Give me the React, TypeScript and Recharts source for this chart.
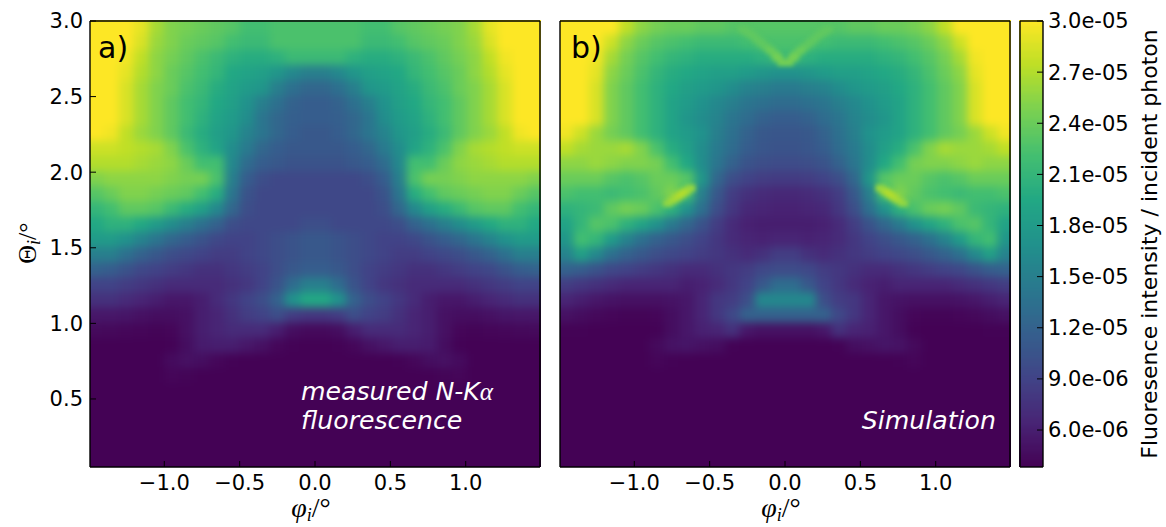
import { ScatterChart, Scatter, XAxis, YAxis } from "recharts"

// half of each panel: columns run from phi = -1.45 to -0.05, the picture is mirror symmetric about phi = 0
const phiValues = [-1.45, -1.35, -1.25, -1.15, -1.05, -0.95, -0.85, -0.75, -0.65, -0.55, -0.45, -0.35, -0.25, -0.15, -0.05]
const thetaValues = [
  2.95, 2.85, 2.75, 2.65, 2.55, 2.45, 2.35, 2.25, 2.15, 2.05, 1.95, 1.85, 1.75, 1.65, 1.55,
  1.45, 1.35, 1.25, 1.15, 1.05, 0.95, 0.85, 0.75, 0.65, 0.55, 0.45, 0.35, 0.25, 0.15, 0.05,
]

// intensity in units of 1e-6
const measuredRows = [
  [30, 30, 30, 29, 26.5, 25, 24.5, 24, 23.5, 23, 22, 22, 22.5, 22.5, 22.5],
  [30, 30, 30, 28.5, 26, 25, 24, 23.5, 23, 22, 21.5, 21.5, 22.5, 22.5, 22.5],
  [30, 30, 29.5, 27.5, 25.5, 24.5, 23.5, 22.5, 21.5, 20.5, 20, 20, 20.5, 21.5, 21.5],
  [30, 30, 29, 27, 25.5, 24, 23, 22, 21, 19.5, 19, 18.5, 17.5, 16, 15],
  [30, 30, 28.5, 26.5, 25, 24, 22.5, 21.5, 20, 19, 18, 17.5, 15, 13.5, 12.5],
  [30, 30, 28.5, 26.5, 25, 23.5, 22, 21, 19.5, 18.5, 17, 15, 13.5, 12, 11.5],
  [30, 30, 28.5, 26.5, 25, 23.5, 22, 20.5, 19, 18, 16.5, 14, 12.5, 11.7, 11.5],
  [30, 29.5, 27.5, 26, 25, 23.5, 21.5, 20, 18.5, 17.5, 15.5, 14, 12.5, 11.5, 11],
  [28, 28, 27.5, 27, 26.5, 25, 22.5, 20.5, 19, 16.5, 14.5, 12.5, 11.5, 11, 11],
  [27, 27, 27, 26.5, 26, 25.5, 24, 22, 22, 16, 13, 11.5, 11, 10.5, 10.5],
  [25, 25.5, 25.5, 25.5, 25.5, 25, 24.5, 24.5, 22.5, 15, 11.5, 10, 9.5, 9.5, 9.5],
  [23, 24, 25, 25, 24.5, 24, 23.5, 22, 20, 14, 10.5, 9.5, 9.5, 9.5, 9.5],
  [21, 22, 23.5, 23.5, 23, 21.5, 20, 18.5, 16, 12.5, 10, 9.5, 9.5, 9.5, 9.5],
  [19.5, 20.5, 20.5, 19.5, 18, 16.5, 15, 13.5, 12, 10, 9.5, 9.5, 9.5, 9.5, 10],
  [18, 18, 17, 15.5, 14, 12.5, 11.5, 10.5, 9.5, 9, 9, 9.5, 10, 10.5, 11],
  [15, 15, 13.5, 12, 11, 10, 9.5, 9, 8.5, 8.5, 9, 9.5, 10, 10.5, 11],
  [12, 11.5, 10.5, 9.5, 9, 8.5, 8, 7.5, 7.5, 8, 8.5, 9, 10, 11, 11.5],
  [9, 9, 8.5, 8, 7.5, 7, 7, 7, 7, 7.5, 8, 9, 10.5, 13, 15],
  [7.5, 7.5, 7, 6.5, 6, 5.5, 5.5, 6, 7, 8, 9, 10, 12, 17, 19.5],
  [5.5, 5.5, 5.3, 5, 4.8, 4.8, 5, 6, 6.5, 7.5, 8.5, 9, 10, 8.5, 8],
  [4.5, 4.4, 4.3, 4.2, 4.1, 4.2, 5, 6, 6.5, 7, 7, 7, 6, 4.8, 4.5],
  [3.9, 3.9, 3.9, 3.9, 3.9, 4, 4.8, 5.8, 6, 6, 5.5, 5, 4.3, 4, 3.9],
  [3.9, 3.9, 3.9, 3.9, 3.9, 4.6, 5, 4.8, 4.3, 4, 3.9, 3.9, 3.9, 3.9, 3.9],
  [3.9, 3.9, 3.9, 3.9, 3.9, 4.2, 4.1, 3.9, 3.9, 3.9, 3.9, 3.9, 3.9, 3.9, 3.9],
  [3.9, 3.9, 3.9, 3.9, 3.9, 3.9, 3.9, 3.9, 3.9, 3.9, 3.9, 3.9, 3.9, 3.9, 3.9],
  [3.9, 3.9, 3.9, 3.9, 3.9, 3.9, 3.9, 3.9, 3.9, 3.9, 3.9, 3.9, 3.9, 3.9, 3.9],
  [3.9, 3.9, 3.9, 3.9, 3.9, 3.9, 3.9, 3.9, 3.9, 3.9, 3.9, 3.9, 3.9, 3.9, 3.9],
  [3.9, 3.9, 3.9, 3.9, 3.9, 3.9, 3.9, 3.9, 3.9, 3.9, 3.9, 3.9, 3.9, 3.9, 3.9],
  [3.9, 3.9, 3.9, 3.9, 3.9, 3.9, 3.9, 3.9, 3.9, 3.9, 3.9, 3.9, 3.9, 3.9, 3.9],
  [3.9, 3.9, 3.9, 3.9, 3.9, 3.9, 3.9, 3.9, 3.9, 3.9, 3.9, 3.9, 3.9, 3.9, 3.9],
]

const simulatedRows = [
  [30, 30, 30, 30, 27.5, 25.5, 24.5, 24, 24, 23.5, 23.5, 23, 23, 23, 23],
  [30, 30, 30, 28, 25.5, 24, 23, 22.5, 22, 21.5, 21.5, 21.5, 22, 22.5, 22.5],
  [30, 30, 29.5, 26.5, 24.5, 23, 22, 21, 20.5, 20, 20, 20, 20, 20.5, 21.5],
  [30, 30, 29, 25.5, 24, 22.5, 21, 20, 19.5, 19, 18.5, 18.5, 18, 17.5, 17],
  [30, 30, 28.5, 25, 23.5, 22, 20.5, 19.5, 18.5, 18, 17.5, 16.5, 15.5, 15, 14.5],
  [30, 30, 28.5, 25, 23.5, 22, 20.5, 19, 18, 17, 16, 15, 14, 13.5, 13],
  [30, 30, 28.5, 25, 23.5, 22, 20.5, 19, 17.5, 16.5, 15.5, 14, 13, 12, 11.5],
  [29.5, 28, 26, 24.5, 23.5, 22, 20.5, 19, 18, 17, 15, 13.5, 12, 11, 10.8],
  [27.5, 26.5, 26, 26, 26.5, 25, 22.5, 20, 18.5, 16.5, 14.5, 13, 11.5, 10.8, 10.5],
  [25.5, 25.5, 26, 25.5, 25, 25, 24.5, 22, 19.5, 16.5, 14, 12, 10.5, 10, 9.8],
  [24, 24, 24, 23, 22.5, 23, 24, 24, 23, 17.5, 12.5, 10, 9, 8.5, 8.3],
  [22.5, 22, 22, 21.5, 22, 22.5, 23.5, 25, 22, 15, 11, 8.5, 7.5, 7, 6.8],
  [20.5, 21, 21.5, 23.5, 24.5, 24, 22.5, 20.5, 17, 13.5, 10, 8, 6.8, 6.5, 6.3],
  [19, 21, 23, 22.5, 20.5, 19, 17, 14.5, 12.5, 10.5, 8.5, 7, 6.2, 6, 6],
  [17.5, 22, 21, 18, 15.5, 13.5, 12, 11, 10, 9, 8, 7, 6.5, 6.3, 6.5],
  [15.5, 18.5, 16, 13.5, 12, 11, 10, 9.5, 9, 8.5, 8, 7.5, 7, 7.5, 8.5],
  [12, 11.5, 10.5, 9.5, 9, 8.5, 8, 7.5, 7, 7, 7.5, 8, 8.5, 9.5, 9.8],
  [8.5, 8, 7.5, 7, 6.5, 6.5, 6.5, 6.5, 6, 6.3, 7, 8, 9, 11, 13],
  [6.5, 6, 5.5, 5.2, 5, 5, 5, 5.2, 5.5, 6.5, 8, 8.5, 10, 16, 16],
  [5, 4.7, 4.4, 4.2, 4.1, 4.1, 4.2, 4.8, 5.5, 6.5, 8, 9.5, 12, 12, 12],
  [4, 4, 3.9, 3.9, 3.9, 3.9, 4, 4.8, 5.5, 6.2, 6.5, 7.5, 5.5, 5, 5],
  [3.9, 3.9, 3.9, 3.9, 3.9, 3.9, 4.5, 5.2, 5.3, 5, 4.8, 4, 3.9, 3.9, 3.9],
  [3.9, 3.9, 3.9, 3.9, 3.9, 3.9, 4.2, 4, 3.9, 3.9, 3.9, 3.9, 3.9, 3.9, 3.9],
  [3.9, 3.9, 3.9, 3.9, 3.9, 3.9, 3.9, 3.9, 3.9, 3.9, 3.9, 3.9, 3.9, 3.9, 3.9],
  [3.9, 3.9, 3.9, 3.9, 3.9, 3.9, 3.9, 3.9, 3.9, 3.9, 3.9, 3.9, 3.9, 3.9, 3.9],
  [3.9, 3.9, 3.9, 3.9, 3.9, 3.9, 3.9, 3.9, 3.9, 3.9, 3.9, 3.9, 3.9, 3.9, 3.9],
  [3.9, 3.9, 3.9, 3.9, 3.9, 3.9, 3.9, 3.9, 3.9, 3.9, 3.9, 3.9, 3.9, 3.9, 3.9],
  [3.9, 3.9, 3.9, 3.9, 3.9, 3.9, 3.9, 3.9, 3.9, 3.9, 3.9, 3.9, 3.9, 3.9, 3.9],
  [3.9, 3.9, 3.9, 3.9, 3.9, 3.9, 3.9, 3.9, 3.9, 3.9, 3.9, 3.9, 3.9, 3.9, 3.9],
  [3.9, 3.9, 3.9, 3.9, 3.9, 3.9, 3.9, 3.9, 3.9, 3.9, 3.9, 3.9, 3.9, 3.9, 3.9],
]

// thin features of the simulation, too narrow for the coarse grid: bright streak and top V
const ridgePhi = [-0.78, -0.75, -0.72, -0.69, -0.66, -0.63, -0.28, -0.25, -0.22, -0.19, -0.16, -0.13, -0.1, -0.07, -0.05, -0.02]
const ridgeTheta = [1.79, 1.81, 1.83, 1.85, 1.87, 1.89, 2.94, 2.92, 2.9, 2.875, 2.85, 2.825, 2.8, 2.775, 2.75, 2.72]
const ridgeValues = [25.5, 26, 26.5, 27, 27, 26, 23.5, 23.5, 23.5, 23.5, 23.5, 23.5, 24, 24, 24.5, 24.5]

const colorbarLevels = [
  3.5, 4, 4.5, 5, 5.5, 6, 6.5, 7, 7.5, 8, 8.5, 9, 9.5, 10, 10.5, 11, 11.5, 12, 12.5, 13, 13.5, 14, 14.5, 15, 15.5, 16, 16.5,
  17, 17.5, 18, 18.5, 19, 19.5, 20, 20.5, 21, 21.5, 22, 22.5, 23, 23.5, 24, 24.5, 25, 25.5, 26, 26.5, 27, 27.5, 28, 28.5,
  29, 29.5, 30, 30.5,
]

const phiTicks = [-1, -0.5, 0, 0.5, 1]
const thetaTicks = [0.5, 1, 1.5, 2, 2.5, 3]
const colorbarTicks = [6, 9, 12, 15, 18, 21, 24, 27, 30]

const viridis = ["#440154", "#482475", "#414487", "#355f8d", "#2a788e", "#21918c", "#22a884", "#44bf70", "#7ad151", "#bddf26", "#fde725"]
const V_MIN = 3.83
const V_MAX = 30
const FONT = "'DejaVu Sans', sans-serif"
const MATH = "'Liberation Serif', serif"

function colorOf(v: number) {
  const t = Math.min(1, Math.max(0, (v - V_MIN) / (V_MAX - V_MIN))) * (viridis.length - 1)
  const i = Math.min(viridis.length - 2, Math.floor(t))
  const f = t - i
  const a = viridis[i]
  const b = viridis[i + 1]
  const mix = (s: number) => {
    const p = parseInt(a.slice(s, s + 2), 16)
    const q = parseInt(b.slice(s, s + 2), 16)
    return Math.round(p + (q - p) * f)
  }
  return `rgb(${mix(1)},${mix(3)},${mix(5)})`
}

// mirror the half rows to get the whole panel
function buildCells(rows: number[][]) {
  const cells: { phi: number; theta: number; value: number }[] = []
  rows.forEach((row, r) => {
    row.forEach((value, c) => {
      cells.push({ phi: phiValues[c], theta: thetaValues[r], value })
      cells.push({ phi: -phiValues[c], theta: thetaValues[r], value })
    })
  })
  return cells
}

function buildRidge() {
  const cells: { phi: number; theta: number; value: number }[] = []
  ridgePhi.forEach((phi, i) => {
    cells.push({ phi, theta: ridgeTheta[i], value: ridgeValues[i] })
    cells.push({ phi: -phi, theta: ridgeTheta[i], value: ridgeValues[i] })
  })
  return cells
}

function HeatCell(props: any) {
  const { cx, cy, payload } = props
  // border cells reach past the plot so the blur does not fade at the frame
  const left = payload.phi === -1.45 ? 24 : 0
  const right = payload.phi === 1.45 ? 24 : 0
  const top = payload.theta === 2.95 ? 24 : 0
  const bottom = payload.theta === 0.05 ? 24 : 0
  return (
    <rect
      x={cx - 8 - left}
      y={cy - 8 - top}
      width={16 + left + right}
      height={16 + top + bottom}
      fill={colorOf(payload.value)}
    />
  )
}

function RidgeCell(props: any) {
  const { cx, cy, payload } = props
  return <rect x={cx - 5} y={cy - 3.5} width={10} height={7} fill={colorOf(payload.value)} />
}

function BarCell(props: any) {
  const { cx, cy, payload } = props
  return <rect x={cx - 24} y={cy - 5} width={48} height={10} fill={colorOf(payload.level)} />
}

const axisStyle = { stroke: "#000", strokeWidth: 1.4 }
const tickStyle = { fill: "#000", fontFamily: FONT, fontSize: 21 }
const tickLineStyle = { stroke: "#000", strokeWidth: 1 }
const PHI_DOMAIN = [-1.493, 1.493]
const THETA_DOMAIN = [0.05, 3]

function Panel({ rows, left, showY, ridge }: { rows: number[][]; left: number; showY: boolean; ridge?: boolean }) {
  const data = buildCells(rows)
  const axisProps: any = { axisLine: axisStyle, tickLine: tickLineStyle, interval: 0, allowDataOverflow: true }
  const box = { position: "absolute" as const, left: left - 90, top: 0 }
  return (
    <>
      <div style={box}>
        <ScatterChart width={560} height={527} margin={{ top: 20, right: 19, bottom: 60, left: 90 }}>
          <XAxis hide dataKey="phi" type="number" domain={PHI_DOMAIN} allowDataOverflow />
          <YAxis hide dataKey="theta" type="number" domain={THETA_DOMAIN} allowDataOverflow />
          <Scatter className="heat" data={data} shape={HeatCell} isAnimationActive={false} />
          {ridge && <Scatter className="ridge" data={buildRidge()} shape={RidgeCell} isAnimationActive={false} />}
        </ScatterChart>
      </div>
      {/* the frame and ticks sit in a second chart on top, since the heat map covers inward ticks */}
      <div style={box}>
        <ScatterChart width={560} height={527} margin={{ top: 20, right: 19, bottom: 0, left: 0 }}>
          <XAxis
            {...axisProps}
            dataKey="phi"
            type="number"
            domain={PHI_DOMAIN}
            ticks={phiTicks}
            height={60}
            tickSize={-6}
            tickMargin={14}
            tick={tickStyle}
            tickFormatter={(v: number) => v.toFixed(1).replace("-", "\u2212")}
          />
          <XAxis {...axisProps} xAxisId="top" orientation="top" type="number" domain={PHI_DOMAIN} ticks={phiTicks} height={1} tickSize={-6} tick={false} />
          <YAxis
            {...axisProps}
            dataKey="theta"
            type="number"
            domain={THETA_DOMAIN}
            ticks={thetaTicks}
            width={90}
            tickSize={-6}
            tickMargin={13}
            tick={showY ? tickStyle : false}
            tickFormatter={(v: number) => v.toFixed(1)}
          />
          <YAxis {...axisProps} yAxisId="right" orientation="right" type="number" domain={THETA_DOMAIN} ticks={thetaTicks} width={1} tickSize={-6} tick={false} />
          <Scatter data={[]} isAnimationActive={false} />
          <Scatter xAxisId="top" yAxisId="right" data={[]} isAnimationActive={false} />
        </ScatterChart>
      </div>
    </>
  )
}

function Colorbar() {
  const data = colorbarLevels.map((level) => ({ x: 0.5, level }))
  const exp = (v: number) => (v >= 10 ? `${(v / 10).toFixed(1)}e-05` : `${v.toFixed(1)}e-06`)
  const box = { position: "absolute" as const, left: 1010, top: 0 }
  return (
    <>
      <div style={box}>
        <ScatterChart width={156} height={527} margin={{ top: 20, right: 123, bottom: 60, left: 9 }}>
          <XAxis hide dataKey="x" type="number" domain={[0, 1]} allowDataOverflow />
          <YAxis hide dataKey="level" type="number" domain={[V_MIN, V_MAX]} allowDataOverflow />
          <Scatter className="bar" data={data} shape={BarCell} isAnimationActive={false} />
        </ScatterChart>
      </div>
      <div style={box}>
        <ScatterChart width={156} height={527} margin={{ top: 20, right: 0, bottom: 0, left: 9 }}>
          <XAxis dataKey="x" type="number" domain={[0, 1]} ticks={[]} height={60} axisLine={axisStyle} tick={false} tickLine={false} allowDataOverflow />
          <XAxis xAxisId="top" orientation="top" type="number" domain={[0, 1]} ticks={[]} height={1} axisLine={axisStyle} tick={false} tickLine={false} allowDataOverflow />
          <YAxis dataKey="level" type="number" domain={[V_MIN, V_MAX]} ticks={[]} width={1} axisLine={axisStyle} tick={false} tickLine={false} allowDataOverflow />
          <YAxis
            yAxisId="right"
            orientation="right"
            type="number"
            domain={[V_MIN, V_MAX]}
            ticks={colorbarTicks}
            width={123}
            interval={0}
            tickSize={-6}
            tickMargin={11}
            axisLine={axisStyle}
            tickLine={tickLineStyle}
            tick={tickStyle}
            tickFormatter={exp}
            allowDataOverflow
          />
          <Scatter data={[]} isAnimationActive={false} />
          <Scatter xAxisId="top" yAxisId="right" data={[]} isAnimationActive={false} />
        </ScatterChart>
      </div>
    </>
  )
}

function Notes() {
  const note = { fontFamily: FONT, fontStyle: "italic", fontSize: 25.2, fill: "#fff" }
  const panelName = { fontFamily: FONT, fontSize: 30, fill: "#000" }
  const math = { fontFamily: MATH, fontStyle: "italic", fontSize: 28, fill: "#000" }
  return (
    <svg width={1166} height={527} style={{ position: "absolute", left: 0, top: 0, pointerEvents: "none", zIndex: 5 }}>
      <text x={98} y={58} {...panelName}>a)</text>
      <text x={571} y={58} {...panelName}>b)</text>
      <text x={301} y={400} {...note}>measured N-K<tspan fontFamily={MATH}>α</tspan></text>
      <text x={301} y={429} {...note}>fluorescence</text>
      <text x={996} y={429} textAnchor="end" {...note}>Simulation</text>
      <text x={311} y={517} textAnchor="middle" {...math}>φ<tspan fontSize={18} dy={4}>i</tspan><tspan dy={-4} fontStyle="normal">/°</tspan></text>
      <text x={781} y={517} textAnchor="middle" {...math}>φ<tspan fontSize={18} dy={4}>i</tspan><tspan dy={-4} fontStyle="normal">/°</tspan></text>
      <text transform="translate(36,243) rotate(-90)" textAnchor="middle" {...math} fontSize={26} fontStyle="normal">Θ<tspan fontSize={18} fontStyle="italic" dy={4}>i</tspan><tspan dy={-4}>/°</tspan></text>
      <text transform="translate(1157,244) rotate(-90)" textAnchor="middle" fontFamily={FONT} fontSize={22} fill="#000">
        Fluoresence intensity / incident photon
      </text>
    </svg>
  )
}

export default function App() {
  return (
    <div style={{ position: "absolute", left: 0, top: 0, width: 1166, height: 527, background: "#fff", overflow: "hidden" }}>
      <style>{`.heat { filter: blur(4px); } .ridge { filter: blur(2px); } .bar { filter: blur(2px); }`}</style>
      <Panel rows={measuredRows} left={90} showY />
      <Panel rows={simulatedRows} left={560} showY={false} ridge />
      <Colorbar />
      <Notes />
    </div>
  )
}
